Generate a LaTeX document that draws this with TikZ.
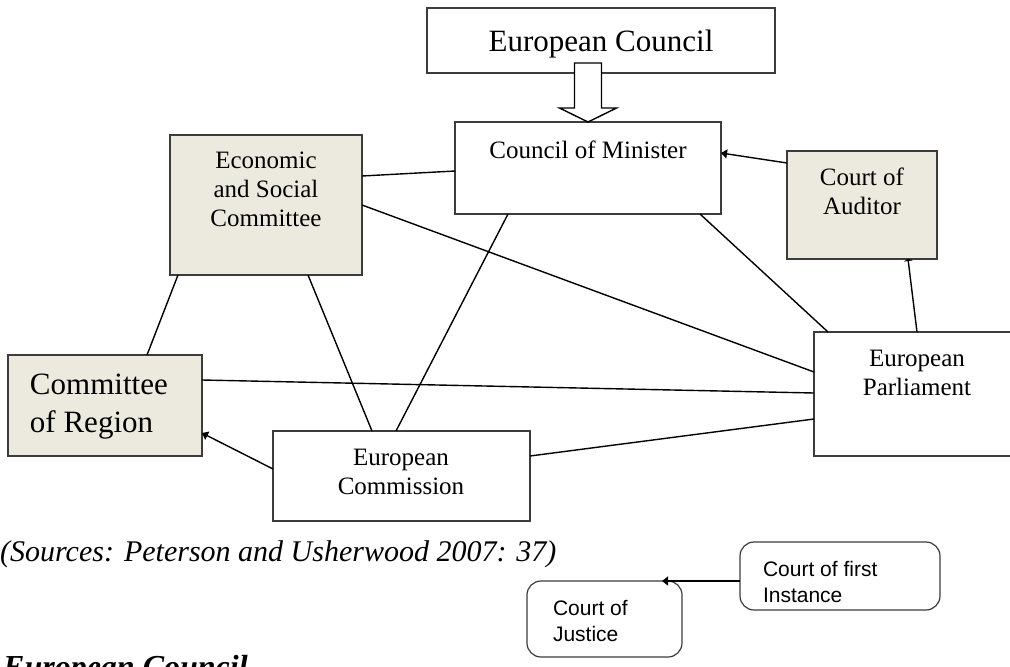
\documentclass[tikz,border=0pt]{standalone}
\usepackage{fontspec}
\setmainfont{Liberation Serif}
\newfontfamily\arialfont{Liberation Sans}
\usetikzlibrary{arrows.meta,calc}
\definecolor{boxgray}{HTML}{ECE9DF}
\definecolor{edgegray}{HTML}{3C3C3C}
\begin{document}
\begin{tikzpicture}[x=1pt,y=-1pt,
  box/.style={draw=edgegray, line width=1.2pt, inner sep=0pt, outer sep=0pt, anchor=north west},
  grayfill/.style={fill=boxgray},
  rbox/.style={box, rounded corners=14pt},
  conn/.style={draw=black, line width=1.4pt},
  arrowtip/.style={-{Triangle[length=6pt,width=9pt]}},
  smalltip/.style={-{Triangle[length=2pt,width=9pt]}},
  lbl/.style={inner sep=0pt, outer sep=0pt, align=center, font=\fontsize{25}{29}\selectfont},
  biglbl/.style={inner sep=0pt, outer sep=0pt, align=left, font=\fontsize{31}{38}\selectfont},
  sanslbl/.style={inner sep=0pt, outer sep=0pt, align=left, font=\arialfont\fontsize{21}{26}\selectfont}]
\useasboundingbox (0,0) rectangle (1010,667);
\clip (0,0) rectangle (1010,667);

% boxes
\node[box, minimum width=348pt, minimum height=65pt] (ec) at (427,8) {};
\node[box, minimum width=266pt, minimum height=92pt] (cm) at (455,122) {};
\node[box, grayfill, minimum width=192pt, minimum height=140pt] (eco) at (170,135) {};
\node[box, grayfill, minimum width=150pt, minimum height=108pt] (ca) at (787,151) {};
\node[box, minimum width=200pt, minimum height=124pt] (ep) at (814,332) {};
\node[box, grayfill, minimum width=194pt, minimum height=101pt] (cr) at (8,355) {};
\node[box, minimum width=257pt, minimum height=90pt] (com) at (273,431) {};
\node[rbox, minimum width=200pt, minimum height=68pt] (cfi) at (740,542) {};
\node[rbox, minimum width=155pt, minimum height=76pt] (cj) at (527,581) {};

% connectors
\draw[conn] ($(eco.north east)+(0,41)$) -- ($(cm.north west)+(0,49)$);
\draw[conn] ($(eco.north east)+(0,70)$) -- ($(ep.north west)+(0,40)$);
\draw[conn] ($(eco.south west)+(8,0)$) -- ($(cr.north west)+(139,0)$);
\draw[conn] ($(eco.south west)+(138,0)$) -- ($(com.north west)+(99,0)$);
\draw[conn] ($(cm.south west)+(53,0)$) -- ($(com.north west)+(123,0)$);
\draw[conn] ($(cm.south west)+(245,0)$) -- ($(ep.north west)+(14,0)$);
\draw[conn, arrowtip] ($(ca.north west)+(0,12)$) -- ($(cm.north east)+(0,31)$);
\draw[conn, smalltip] ($(ep.north west)+(103,0)$) -- ($(ca.south west)+(121,0)$);
\draw[conn] ($(cr.north east)+(0,25)$) -- ($(ep.north west)+(0,61)$);
\draw[conn] ($(com.north east)+(0,25)$) -- ($(ep.north west)+(0,87)$);
\draw[conn, arrowtip] ($(com.north west)+(0,38)$) -- ($(cr.north east)+(0,78)$);
\draw[conn, arrowtip] ($(cfi.north west)+(0,39)$) -- ($(cj.north east)+(-20,0)$);

% block arrow from European Council to Council of Minister
\draw[draw=black, line width=1.4pt, fill=white, line join=miter]
  ($(cm.north)+(-13.5,-59)$) -- ++(27,0) -- ++(0,45) -- ++(15,0) -- (cm.north)
  -- ++(-28.5,-14) -- ++(15,0) -- cycle;

% texts
\node[lbl, font=\fontsize{31}{37}\selectfont, anchor=base] (ect) at (601,51) {European Council};
\node[lbl, anchor=base] (cmt) at (588,158) {Council of Minister};
\node[lbl, anchor=north] (ecot) at (266,152) {Economic\\and Social\\Committee};
\node[lbl, anchor=north] (cat) at (862,168) {Court of\\Auditor};
\node[lbl, anchor=north] (ept) at (917,350) {European\\Parliament};
\node[biglbl, anchor=north west] (crt) at (30,374) {Committee\\of Region};
\node[lbl, anchor=north] (comt) at (401,449) {European\\Commission};
\node[sanslbl, anchor=north west] (cfit) at (763,561) {Court of first\\Instance};
\node[sanslbl, anchor=north west] (cjt) at (553,600) {Court of\\Justice};
\node[inner sep=0pt, anchor=base west, font=\itshape\fontsize{30}{34}\selectfont] (src) at (0,561) {(Sources: Peterson and Usherwood 2007: 37)};
\node[inner sep=0pt, anchor=base west, font=\bfseries\itshape\fontsize{32}{38}\selectfont] (title) at (3,677) {European Council};
\end{tikzpicture}
\end{document}
